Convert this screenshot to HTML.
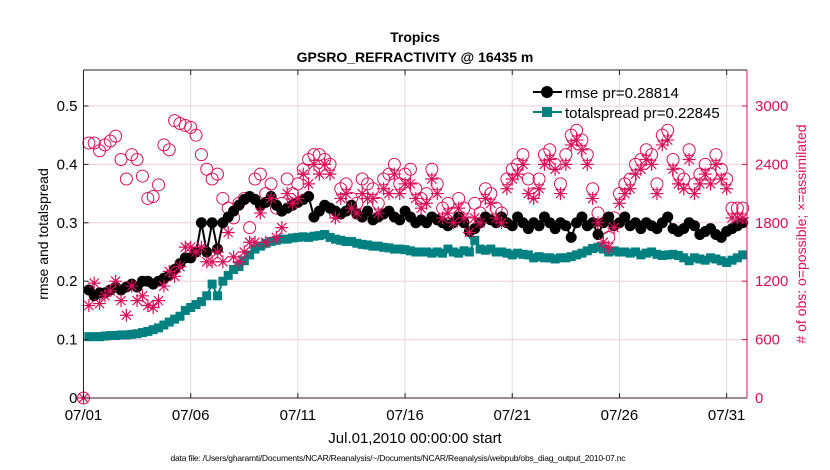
<!DOCTYPE html>
<html><head><meta charset="utf-8"><style>
body{margin:0;background:#fff;}
svg{display:block;font-family:"Liberation Sans",Arial,sans-serif;}
</style></head><body>
<svg id="chart" width="830" height="470" viewBox="0 0 830 470">
<rect width="830" height="470" fill="#fff"/>
<text x="415" y="42" text-anchor="middle" font-size="14" font-weight="bold">Tropics</text>
<text x="415" y="62" text-anchor="middle" font-size="14" font-weight="bold">GPSRO_REFRACTIVITY @ 16435 m</text>
<g id="grid"></g>
<g id="marks"></g>
<g id="axes"></g>
<text transform="translate(48,234) rotate(-90)" text-anchor="middle" font-size="14">rmse and totalspread</text>
<text transform="translate(806,234) rotate(-90)" text-anchor="middle" font-size="14" fill="#d8105a"># of obs: o=possible; ×=assimilated</text>
<text x="415" y="443" text-anchor="middle" font-size="15">Jul.01,2010 00:00:00 start</text>
<text x="398" y="461" text-anchor="middle" font-size="8.5" textLength="455">data file: /Users/gharamti/Documents/NCAR/Reanalysis/~/Documents/NCAR/Reanalysis/webpub/obs_diag_output_2010-07.nc</text>
<g>
<line x1="533" y1="92" x2="562" y2="92" stroke="#000" stroke-width="2"/>
<circle cx="547" cy="92" r="6" fill="#000"/>
<text x="565" y="98" font-size="15">rmse pr=0.28814</text>
<line x1="533" y1="112" x2="562" y2="112" stroke="#008080" stroke-width="2"/>
<rect x="542" y="107" width="10" height="10" fill="#008080"/>
<text x="565" y="118" font-size="15">totalspread pr=0.22845</text>
</g>
</svg>
<script>
const xTickLabels=["07/01","07/06","07/11","07/16","07/21","07/26","07/31"];
const xTickDays=[0,5,10,15,20,25,30];
const yTicks=[0,0.1,0.2,0.3,0.4,0.5];
const y2Ticks=[0,600,1200,1800,2400,3000];
const rmse=[null,0.185,0.175,0.18, 0.18,0.185,0.19,0.185, 0.19,0.195,0.19,0.2, 0.2,0.195,0.2,0.205, 0.21,0.22,0.23,0.24, 0.24,0.25,0.3,0.25, 0.3,0.255,0.3,0.31, 0.32,0.33,0.34,0.345, 0.34,0.33,0.335,0.345, 0.33,0.32,0.325,0.33, 0.335,0.34,0.345,0.31, 0.32,0.33,0.325,0.32, 0.315,0.32,0.33,0.315, 0.31,0.32,0.305,0.31, 0.315,0.32,0.31,0.305, 0.32,0.31,0.3,0.305, 0.3,0.31,0.305,0.3, 0.295,0.3,0.31,0.3, 0.285,0.29,0.3,0.31, 0.305,0.3,0.31,0.3, 0.295,0.31,0.3,0.29, 0.3,0.295,0.31,0.3, 0.29,0.3,0.295,0.275, 0.3,0.31,0.295,0.3, 0.28,0.3,0.31,0.295, 0.3,0.31,0.295,0.3, 0.29,0.3,0.295,0.29, 0.3,0.31,0.29,0.285, 0.29,0.3,0.295,0.28, 0.285,0.29,0.28,0.275, 0.285,0.29,0.295,0.3];
const spread=[null,0.105,0.105,0.105, 0.106,0.107,0.107,0.108, 0.108,0.109,0.11,0.112, 0.114,0.117,0.12,0.125, 0.13,0.135,0.14,0.15, 0.155,0.16,0.165,0.175, 0.195,0.175,0.2,0.21, 0.22,0.225,0.235,0.245, 0.255,0.26,0.265,0.268, 0.27,0.272,0.272,0.274, 0.275,0.276,0.275,0.277, 0.278,0.28,0.275,0.272, 0.27,0.268,0.268,0.265, 0.263,0.262,0.26,0.26, 0.258,0.257,0.255,0.255, 0.254,0.252,0.25,0.25, 0.25,0.248,0.25,0.248, 0.255,0.25,0.248,0.252, 0.25,0.27,0.255,0.253, 0.255,0.25,0.25,0.248, 0.245,0.248,0.246,0.245, 0.24,0.242,0.24,0.24, 0.238,0.24,0.24,0.242, 0.245,0.248,0.252,0.256, 0.258,0.255,0.25,0.252, 0.25,0.25,0.248,0.25, 0.245,0.248,0.25,0.246, 0.244,0.245,0.246,0.244, 0.24,0.235,0.24,0.238, 0.236,0.24,0.238,0.235, 0.232,0.236,0.24,0.245];
const possible=[0,2620,2620,2540, 2600,2640,2690,2450, 2250,2500,2450,2280, 2050,2070,2190,2600, 2550,2850,2820,2800, 2780,2700,2500,2350, 2250,2300,2050,1950, 1850,2000,2050,1750, 2250,2300,2100,2200, 1950,2000,2250,2100, 2200,2350,2450,2500, 2500,2450,2400,1900, 2150,2200,2050,2000, 2250,2200,2150,2000, 2250,2300,2400,2200, 2300,2350,2150,2050, 2100,2350,2200,1950, 2000,1900,2050,1950, 1800,2000,1900,2150, 2100,1950,1900,2250, 2350,2400,2500,2250, 2100,2250,2500,2550, 2400,2200,2500,2700, 2750,2650,2500,2150, 1900,1750,1650,1850, 2100,2200,2250,2400, 2450,2550,2500,2200, 2700,2750,2450,2300, 2250,2550,2200,2300, 2400,2300,2500,2350, 2250,1950,1950,1950];
const assimilated=[0,950,1180,970, 1050,1100,1200,1000, 850,1150,1000,1050, 950,930,1000,1150, 1300,1250,1350,1550, 1550,1500,1550,1400, 1400,1500,1400,1700, 1450,1400,1500,1600, 1600,1900,1600,2050, 1650,1750,2100,2000, 2050,2300,2200,2400, 2300,2400,2300,1850, 2050,2100,1950,1900, 2100,2050,2050,1900, 2150,2100,2300,2100, 2200,2200,2050,1950, 2000,2250,2100,1850, 1900,1800,1950,1850, 1700,1850,1800,2050, 2000,1850,1800,2150, 2250,2300,2400,2100, 2050,2150,2400,2450, 2350,2100,2400,2600, 2650,2550,2400,2050, 1800,1600,1550,1750, 2000,2100,2150,2300, 2350,2450,2400,2100, 2600,2650,2350,2200, 2150,2450,2100,2200, 2300,2200,2400,2250, 2150,1850,1850,1850];

const NS="http://www.w3.org/2000/svg";
const L=83.5,R=747,T=70,B=398,XMAX=30.95,YMAX=0.5616,Y2MAX=YMAX*6000;
const xs=d=>L+d/XMAX*(R-L);
const ys=v=>B-v/YMAX*(B-T);
const y2s=v=>B-v/Y2MAX*(B-T);
const mk=(tag,attrs,parent)=>{const e=document.createElementNS(NS,tag);for(const k in attrs)e.setAttribute(k,attrs[k]);parent.appendChild(e);return e;};
const grid=document.getElementById('grid'),marks=document.getElementById('marks'),axes=document.getElementById('axes');
const MAG="#d8105a";

yTicks.forEach((v,i)=>{if(v>0){const l=mk('line',{x1:L,x2:R,y1:ys(v),y2:ys(v),stroke:'#f6cadb','stroke-width':1},grid);

}
const t=mk('text',{x:L-6,y:ys(v)+5,'text-anchor':'end','font-size':15},axes);t.textContent=String(v);


mk('line',{x1:L,x2:L+5,y1:ys(v),y2:ys(v),stroke:'#222'},axes);});
xTickDays.forEach((d,i)=>{if(d>0){const l=mk('line',{x1:xs(d),x2:xs(d),y1:T,y2:B,stroke:'#ddd','stroke-width':1},grid);

}
mk('line',{x1:xs(d),x2:xs(d),y1:T,y2:T+5,stroke:'#222'},axes);
mk('line',{x1:xs(d),x2:xs(d),y1:B,y2:B-5,stroke:'#222'},axes);
const t=mk('text',{x:xs(d),y:420,'text-anchor':'middle','font-size':15},axes);t.textContent=xTickLabels[i];

});
y2Ticks.forEach(v=>{mk('line',{x1:R,x2:R-5,y1:y2s(v),y2:y2s(v),stroke:MAG},axes);
const t=mk('text',{x:R+8,y:y2s(v)+5,'font-size':15,fill:MAG},axes);t.textContent=String(v);

});
mk('line',{x1:L,x2:R,y1:T,y2:T,stroke:'#222'},axes);
mk('line',{x1:L,x2:R,y1:B,y2:B,stroke:'#3a1a2a'},axes);
mk('line',{x1:L,x2:L,y1:T,y2:B,stroke:'#222'},axes);
mk('line',{x1:R,x2:R,y1:T,y2:B,stroke:MAG},axes);

const t=i=>i*0.25;
possible.forEach((v,i)=>{const c=mk('circle',{cx:xs(t(i)),cy:y2s(v),r:6,fill:'none',stroke:MAG,'stroke-width':1},marks);

});
let p='';spread.forEach((v,i)=>{if(v!=null)p+=(p?'L':'M')+xs(t(i))+' '+ys(v);});
mk('path',{d:p,fill:'none',stroke:'#008080','stroke-width':2},marks);
spread.forEach((v,i)=>{if(v==null)return;const r=mk('rect',{x:xs(t(i))-4.5,y:ys(v)-4.5,width:9,height:9,fill:'#008080'},marks);

});
p='';rmse.forEach((v,i)=>{if(v!=null)p+=(p?'L':'M')+xs(t(i))+' '+ys(v);});
mk('path',{d:p,fill:'none',stroke:'#000','stroke-width':2},marks);
rmse.forEach((v,i)=>{if(v==null)return;const c=mk('circle',{cx:xs(t(i)),cy:ys(v),r:5.5,fill:'#000'},marks);

});
assimilated.forEach((v,i)=>{const x=xs(t(i)),y=y2s(v),s=6.5;
const g=mk('path',{d:`M${x-s} ${y}H${x+s}M${x} ${y-s}V${y+s}M${x-4.6} ${y-4.6}L${x+4.6} ${y+4.6}M${x-4.6} ${y+4.6}L${x+4.6} ${y-4.6}`,stroke:MAG,'stroke-width':1.2,fill:'none'},marks);

});
</script>
</body></html>
